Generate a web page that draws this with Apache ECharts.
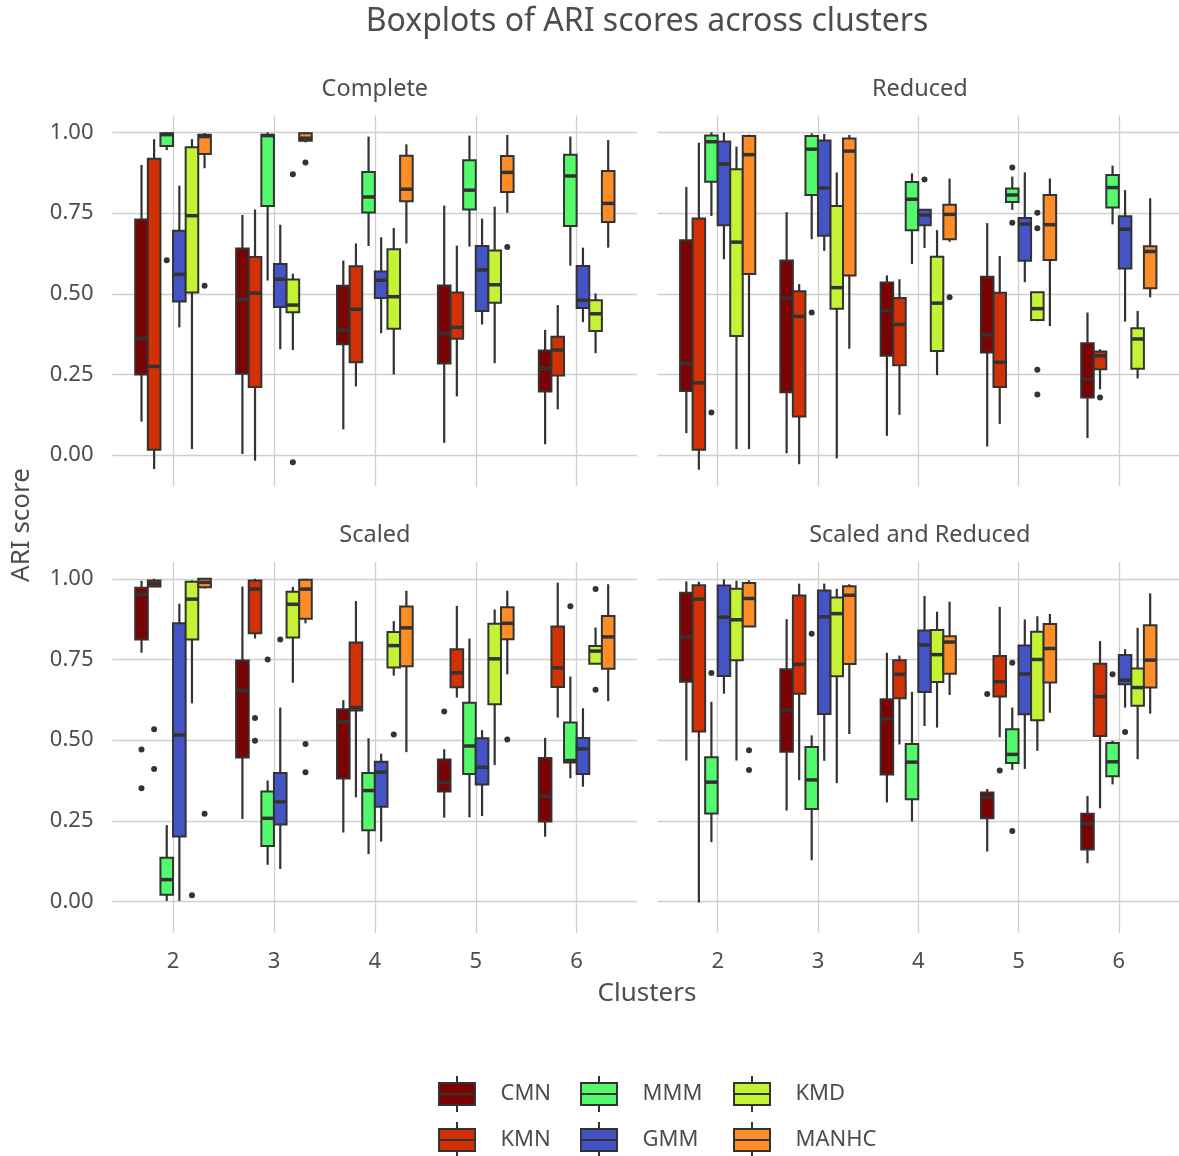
<!DOCTYPE html>
<html><head><meta charset="utf-8">
<script src="https://cdn.jsdelivr.net/npm/echarts@6/dist/echarts.min.js"></script>
<style>html,body{margin:0;padding:0;background:#ffffff}#chart{width:1179px;height:1156px}</style>
</head><body><div id="chart"></div>
<script>
const clusters = [2, 3, 4, 5, 6];
const methods = ['CMN', 'KMN', 'MMM', 'GMM', 'KMD', 'MANHC'];
const facets = ['Complete', 'Reduced', 'Scaled', 'Scaled and Reduced'];
const yTicks = [0, 0.25, 0.5, 0.75, 1];
const colors = ['#7A0403', '#D23105', '#55F96C', '#4454C4', '#C4F235', '#FE8C27'];

// each row: [lower whisker, Q1, median, Q3, upper whisker] for clusters 2..6
const complete_CMN = [[0.104,0.250,0.362,0.730,0.899],[0.004,0.252,0.483,0.640,0.744],[0.080,0.344,0.387,0.525,0.603],[0.038,0.284,0.378,0.526,0.773],[0.034,0.197,0.269,0.324,0.388]];
const complete_KMN = [[-0.043,0.017,0.275,0.918,0.979],[-0.017,0.211,0.502,0.614,0.761],[0.213,0.288,0.452,0.585,0.656],[0.182,0.361,0.396,0.504,0.649],[0.142,0.247,0.326,0.367,0.465]];
const complete_MMM = [[0.945,0.958,0.993,0.997,1.000],[0.541,0.772,0.990,0.993,1.000],[0.648,0.752,0.800,0.877,0.987],[0.646,0.761,0.821,0.914,0.990],[0.587,0.710,0.865,0.931,0.987]];
const complete_GMM = [[0.396,0.476,0.560,0.695,0.835],[0.328,0.459,0.545,0.592,0.714],[0.378,0.487,0.542,0.569,0.675],[0.405,0.447,0.574,0.648,0.733],[0.412,0.456,0.480,0.586,0.643]];
const complete_KMD = [[0.019,0.504,0.742,0.954,0.979],[0.326,0.443,0.465,0.544,0.562],[0.250,0.392,0.491,0.638,0.704],[0.285,0.472,0.528,0.634,0.770],[0.316,0.385,0.438,0.480,0.501]];
const complete_MANHC = [[0.889,0.933,0.987,0.993,0.998],[0.969,0.974,0.982,0.997,1.000],[0.656,0.787,0.824,0.928,0.963],[0.751,0.815,0.876,0.927,0.992],[0.643,0.722,0.780,0.880,0.976]];

const reduced_CMN = [[0.068,0.199,0.285,0.666,0.831],[0.006,0.195,0.486,0.603,0.753],[0.060,0.308,0.448,0.535,0.557],[0.027,0.318,0.373,0.553,0.719],[0.053,0.179,0.235,0.347,0.442]];
const reduced_KMN = [[-0.045,0.017,0.224,0.733,0.968],[-0.028,0.120,0.430,0.508,0.530],[0.125,0.279,0.405,0.487,0.545],[0.097,0.211,0.288,0.503,0.617],[0.204,0.266,0.308,0.321,0.328]];
const reduced_MMM = [[0.741,0.847,0.971,0.990,1.000],[0.669,0.806,0.948,0.989,0.997],[0.592,0.697,0.793,0.846,0.873],[0.760,0.784,0.806,0.826,0.863],[0.715,0.767,0.829,0.868,0.897]];
const reduced_GMM = [[0.607,0.712,0.902,0.972,1.000],[0.633,0.680,0.828,0.975,0.995],[0.642,0.712,0.744,0.760,0.760],[0.536,0.602,0.716,0.735,0.876],[0.414,0.578,0.700,0.740,0.821]];
const reduced_KMD = [[0.019,0.369,0.660,0.886,0.956],[-0.010,0.454,0.519,0.772,0.876],[0.248,0.323,0.471,0.615,0.697],[0.415,0.419,0.454,0.505,0.505],[0.238,0.268,0.360,0.393,0.447]];
const reduced_MANHC = [[0.019,0.561,0.931,0.989,0.993],[0.330,0.557,0.942,0.981,0.992],[0.661,0.669,0.746,0.776,0.857],[0.400,0.605,0.714,0.806,0.857],[0.489,0.517,0.631,0.647,0.796]];

const scaled_CMN = [[0.771,0.812,0.951,0.972,0.994],[0.256,0.446,0.654,0.747,0.976],[0.214,0.381,0.557,0.596,0.624],[0.260,0.341,0.369,0.440,0.472],[0.201,0.248,0.326,0.445,0.507]];
const scaled_KMN = [[0.974,0.976,0.985,0.995,1.000],[0.815,0.831,0.968,0.995,1.000],[0.323,0.592,0.601,0.803,0.931],[0.632,0.664,0.709,0.782,0.916],[0.570,0.665,0.724,0.852,0.988]];
const scaled_MMM = [[0.002,0.021,0.068,0.136,0.237],[0.114,0.172,0.258,0.341,0.375],[0.147,0.221,0.344,0.398,0.506],[0.261,0.395,0.482,0.616,0.815],[0.382,0.431,0.437,0.555,0.697]];
const scaled_GMM = [[0.002,0.202,0.516,0.862,0.923],[0.101,0.239,0.309,0.398,0.601],[0.186,0.294,0.401,0.433,0.458],[0.265,0.363,0.416,0.506,0.531],[0.356,0.395,0.473,0.507,0.599]];
const scaled_KMD = [[0.614,0.812,0.937,0.991,0.995],[0.678,0.818,0.921,0.960,0.975],[0.700,0.725,0.793,0.835,0.869],[0.423,0.611,0.752,0.861,0.905],[0.737,0.737,0.776,0.792,0.849]];
const scaled_MANHC = [[0.970,0.974,0.989,1.000,1.000],[0.862,0.876,0.968,0.997,1.000],[0.463,0.729,0.848,0.914,0.963],[0.704,0.813,0.862,0.912,0.963],[0.621,0.721,0.820,0.885,0.983]];

const scaledReduced_CMN = [[0.437,0.681,0.820,0.957,0.992],[0.282,0.464,0.594,0.720,0.875],[0.307,0.394,0.566,0.627,0.771],[0.155,0.258,0.323,0.338,0.349],[0.119,0.161,0.241,0.272,0.327]];
const scaledReduced_KMN = [[-0.003,0.527,0.937,0.980,0.991],[0.376,0.644,0.735,0.948,0.985],[0.487,0.630,0.704,0.748,0.762],[0.509,0.635,0.681,0.761,0.913],[0.289,0.513,0.635,0.737,0.807]];
const scaledReduced_MMM = [[0.184,0.273,0.370,0.447,0.619],[0.128,0.287,0.377,0.479,0.515],[0.248,0.317,0.432,0.488,0.650],[0.408,0.429,0.456,0.534,0.601],[0.363,0.388,0.433,0.491,0.498]];
const scaledReduced_GMM = [[0.644,0.699,0.881,0.979,0.998],[0.436,0.581,0.882,0.964,0.985],[0.544,0.649,0.795,0.840,0.947],[0.411,0.580,0.705,0.793,0.874],[0.601,0.673,0.686,0.764,0.782]];
const scaledReduced_KMD = [[0.437,0.748,0.873,0.969,0.994],[0.367,0.698,0.892,0.942,0.969],[0.539,0.680,0.765,0.841,0.898],[0.467,0.562,0.750,0.836,0.884],[0.441,0.607,0.663,0.722,0.848]];
const scaledReduced_MANHC = [[0.852,0.852,0.939,0.987,0.995],[0.519,0.736,0.949,0.977,0.983],[0.640,0.706,0.804,0.822,0.929],[0.585,0.679,0.784,0.860,0.891],[0.582,0.663,0.748,0.856,0.955]];

// outliers: [method, cluster, value]
const complete_out = [['MMM',2,0.604],['MANHC',2,0.525],['KMD',3,0.870],['KMD',3,-0.022],['MANHC',3,0.907],['MANHC',5,0.645]];
const reduced_out = [['MMM',2,0.132],['MMM',3,0.442],['GMM',4,0.854],['MANHC',4,0.489],['MMM',5,0.891],['MMM',5,0.720],['KMD',5,0.751],['KMD',5,0.703],['KMD',5,0.265],['KMD',5,0.188],['KMN',6,0.179]];
const scaled_out = [['CMN',2,0.471],['CMN',2,0.351],['KMN',2,0.534],['KMN',2,0.411],['KMD',2,0.020],['MANHC',2,0.272],['KMN',3,0.569],['KMN',3,0.498],['MMM',3,0.750],['GMM',3,0.812],['MANHC',3,0.488],['MANHC',3,0.401],['KMD',4,0.518],['CMN',5,0.589],['MANHC',5,0.502],['MMM',6,0.915],['KMD',6,0.968],['KMD',6,0.656]];
const scaledReduced_out = [['MMM',2,0.708],['MANHC',2,0.469],['MANHC',2,0.408],['MMM',3,0.830],['CMN',5,0.643],['KMN',5,0.406],['MMM',5,0.740],['MMM',5,0.219],['MMM',6,0.704],['GMM',6,0.525]];

const facetStats = [
  [complete_CMN, complete_KMN, complete_MMM, complete_GMM, complete_KMD, complete_MANHC],
  [reduced_CMN, reduced_KMN, reduced_MMM, reduced_GMM, reduced_KMD, reduced_MANHC],
  [scaled_CMN, scaled_KMN, scaled_MMM, scaled_GMM, scaled_KMD, scaled_MANHC],
  [scaledReduced_CMN, scaledReduced_KMN, scaledReduced_MMM, scaledReduced_GMM, scaledReduced_KMD, scaledReduced_MANHC]
];
const facetOut = [complete_out, reduced_out, scaled_out, scaledReduced_out];

const FONT = 'Noto Sans';
const TXT = '#4d4d4d';
const DARK = '#333333';
const DODGE = 0.75 / methods.length;
const Y_MIN = -0.0973, Y_MAX = 1.0523;

const gridPos = [
  {left: 112.5, top: 115.5},
  {left: 657.5, top: 115.5},
  {left: 112.5, top: 561.9},
  {left: 657.5, top: 561.9}
];
const GW = 524.7, GH = 371.1;

function makeRender(mi, color) {
  return function (params, api) {
    const c = api.value(0);
    const cx = c + (mi - (methods.length - 1) / 2) * DODGE;
    const xl = api.coord([cx - DODGE / 2, 0])[0];
    const xr = api.coord([cx + DODGE / 2, 0])[0];
    const xm = (xl + xr) / 2;
    const yy = k => api.coord([cx, api.value(k)])[1];
    const yLo = yy(1), yQ1 = yy(2), yMed = yy(3), yQ3 = yy(4), yHi = yy(5);
    return {
      type: 'group',
      children: [
        {type: 'line', shape: {x1: xm, y1: yQ3, x2: xm, y2: yHi}, style: {stroke: DARK, lineWidth: 2.2}},
        {type: 'line', shape: {x1: xm, y1: yQ1, x2: xm, y2: yLo}, style: {stroke: DARK, lineWidth: 2.2}},
        {type: 'rect', shape: {x: xl, y: yQ3, width: xr - xl, height: yQ1 - yQ3}, style: {fill: color, stroke: DARK, lineWidth: 2}},
        {type: 'line', shape: {x1: xl, y1: yMed, x2: xr, y2: yMed}, style: {stroke: DARK, lineWidth: 3.5}}
      ]
    };
  };
}

const series = [];
facets.forEach((f, fi) => {
  methods.forEach((m, mi) => {
    series.push({
      type: 'custom', name: m, xAxisIndex: fi, yAxisIndex: fi,
      itemStyle: {color: colors[mi]},
      renderItem: makeRender(mi, colors[mi]),
      data: clusters.map((c, ci) => [c].concat(facetStats[fi][mi][ci])),
      encode: {x: 0, y: [1, 2, 3, 4, 5]},
      clip: false, silent: true, z: 2
    });
  });
  series.push({
    type: 'scatter', xAxisIndex: fi, yAxisIndex: fi, symbolSize: 6, silent: true, z: 3,
    itemStyle: {color: DARK, opacity: 1},
    data: facetOut[fi].map(o => [o[1] + (methods.indexOf(o[0]) - (methods.length - 1) / 2) * DODGE, o[2]])
  });
});

const legendIcon = 'path://M18,0 L18,7 M0,7 L36,7 L36,29 L0,29 Z M18,29 L18,36 M0,18 L36,18';
// legend layout: columns of (CMN, KMN), (MMM, GMM), (KMD, MANHC)
const legendColLeft = [438, 580, 733];
const legendRowTop = [1075, 1121];

const option = {
  animation: false,
  backgroundColor: '#ffffff',
  textStyle: {fontFamily: FONT},
  grid: gridPos.map(g => ({left: g.left, top: g.top, width: GW, height: GH, containLabel: false})),
  xAxis: facets.map((f, fi) => ({
    type: 'value', gridIndex: fi, min: 1.4, max: 6.6,
    axisLine: {show: false},
    axisTick: {show: false, customValues: clusters},
    axisLabel: {show: fi >= 2, customValues: clusters, margin: 18, fontSize: 22, color: TXT, fontFamily: FONT},
    splitLine: {show: true, lineStyle: {color: '#cfcfcf', width: 1.3}}
  })),
  yAxis: facets.map((f, fi) => ({
    type: 'value', gridIndex: fi, min: Y_MIN, max: Y_MAX,
    axisLine: {show: false},
    axisTick: {show: false, customValues: yTicks},
    axisLabel: {show: fi % 2 === 0, customValues: yTicks, margin: 19, fontSize: 22, color: TXT, fontFamily: FONT,
      formatter: v => Number(v).toFixed(2)},
    splitLine: {show: true, lineStyle: {color: '#cfcfcf', width: 1.3}}
  })),
  legend: methods.map((m, mi) => ({
    data: [m], orient: 'horizontal',
    left: legendColLeft[Math.floor(mi / 2)], top: legendRowTop[mi % 2],
    itemWidth: 37, itemHeight: 36, padding: 0,
    icon: legendIcon, selectedMode: false,
    itemStyle: {borderColor: DARK, borderWidth: 2},
    textStyle: {fontSize: 22, color: TXT, fontFamily: FONT, padding: [0, 0, 0, 20]}
  })),
  graphic: [
    {type: 'text', x: 647, y: 22, style: {text: 'Boxplots of ARI scores across clusters', font: '32px "Noto Sans"', fill: TXT, align: 'center', verticalAlign: 'middle'}},
    {type: 'text', x: gridPos[0].left + GW / 2, y: 89, style: {text: facets[0], font: '23.5px "Noto Sans"', fill: TXT, align: 'center', verticalAlign: 'middle'}},
    {type: 'text', x: gridPos[1].left + GW / 2, y: 89, style: {text: facets[1], font: '23.5px "Noto Sans"', fill: TXT, align: 'center', verticalAlign: 'middle'}},
    {type: 'text', x: gridPos[2].left + GW / 2, y: 535, style: {text: facets[2], font: '23.5px "Noto Sans"', fill: TXT, align: 'center', verticalAlign: 'middle'}},
    {type: 'text', x: gridPos[3].left + GW / 2, y: 535, style: {text: facets[3], font: '23.5px "Noto Sans"', fill: TXT, align: 'center', verticalAlign: 'middle'}},
    {type: 'text', x: 647, y: 994, style: {text: 'Clusters', font: '26px "Noto Sans"', fill: TXT, align: 'center', verticalAlign: 'middle'}},
    {type: 'text', x: 22, y: 525, rotation: Math.PI / 2, style: {text: 'ARI score', font: '26px "Noto Sans"', fill: TXT, align: 'center', verticalAlign: 'middle'}}
  ],
  series: series
};

const chart = echarts.init(document.getElementById('chart'), null, {renderer: 'canvas'});
chart.setOption(option);
</script>
</body></html>
